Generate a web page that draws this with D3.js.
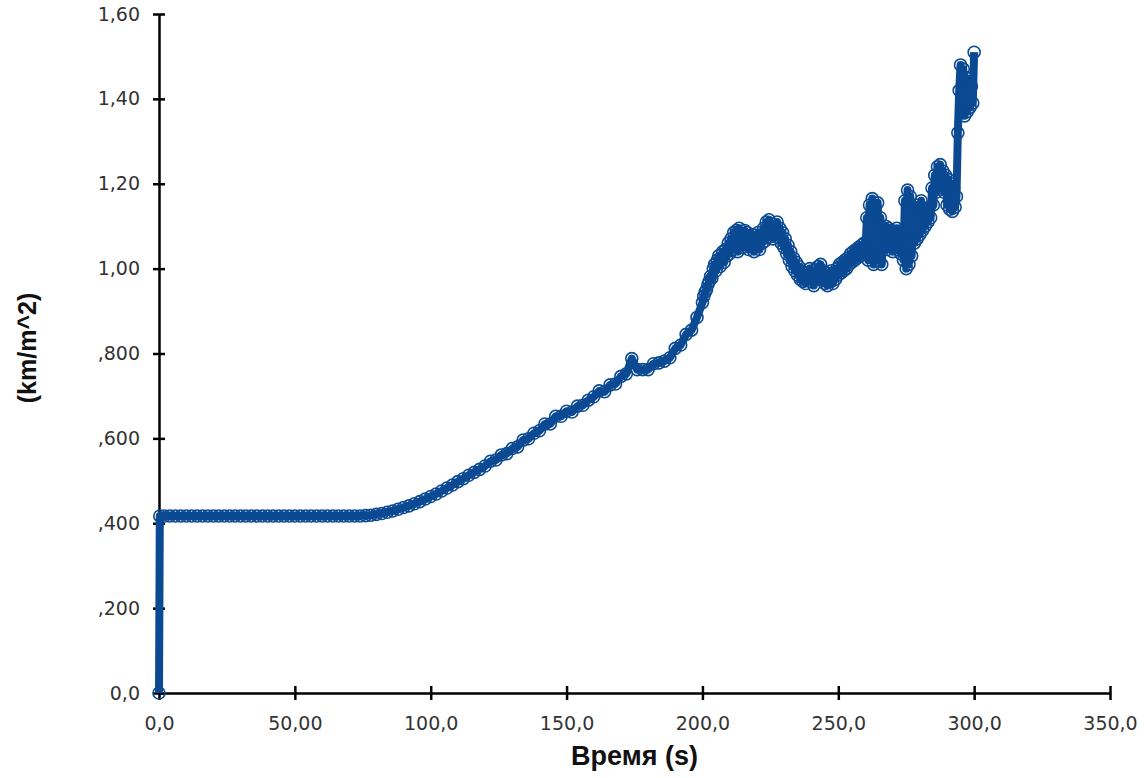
<!DOCTYPE html>
<html>
<head>
<meta charset="utf-8">
<script src="https://cdn.jsdelivr.net/npm/d3@7"></script>
<style>
  body { margin: 0; background: #fff; }
  svg { display: block; }
  .tick text { font-family: "DejaVu Sans", Verdana, sans-serif; font-size: 19px; fill: #333; }
  .title { font-family: "Liberation Sans", Arial, sans-serif; font-weight: bold; fill: #111; }
</style>
</head>
<body>
<svg id="chart" width="1144" height="778"></svg>
<script>
// tick values and their labels, as printed on the chart
var xTicks = [0, 50, 100, 150, 200, 250, 300, 350];
var xTickLabels = ['0,0', '50,00', '100,0', '150,0', '200,0', '250,0', '300,0', '350,0'];
var yTicks = [0, 0.2, 0.4, 0.6, 0.8, 1.0, 1.2, 1.4, 1.6];
var yTickLabels = ['0,0', ',200', ',400', ',600', ',800', '1,00', '1,20', '1,40', '1,60'];

// start of the record: the jump at t = 0
var startTimes = [0, 0.3];
var startValues = [0.0, 0.417];

// 2 s samples, t = 2 .. 198
var rampTimes = d3.range(2, 200, 2);
var rampValues = [
  0.417, 0.417, 0.417, 0.417, 0.417, 0.417, 0.417, 0.417, 0.417, 0.417,
  0.417, 0.417, 0.417, 0.417, 0.417, 0.417, 0.417, 0.417, 0.417, 0.417,
  0.417, 0.417, 0.417, 0.417, 0.417, 0.417, 0.417, 0.417, 0.417, 0.417,
  0.417, 0.417, 0.417, 0.417, 0.417, 0.417, 0.417,
  0.418, 0.419, 0.421, 0.423, 0.426, 0.429, 0.433, 0.437, 0.441, 0.446,
  0.451, 0.457, 0.463, 0.469, 0.476, 0.483, 0.490, 0.498, 0.505, 0.513,
  0.520, 0.527, 0.535, 0.546, 0.549, 0.561, 0.564, 0.576, 0.580, 0.596,
  0.599, 0.612, 0.618, 0.634, 0.634, 0.652, 0.652, 0.664, 0.662, 0.676,
  0.678, 0.690, 0.698, 0.712, 0.710, 0.726, 0.728, 0.746, 0.752, 0.788,
  0.762, 0.762, 0.762, 0.776, 0.778, 0.782, 0.790, 0.812, 0.820, 0.845,
  0.855, 0.885
];

// 0.5 s samples, t = 200 .. 300
var noisyTimes = d3.range(200, 300.5, 0.5);
var noisyValues = [
  0.920, 0.935, 0.945, 0.950, 0.962, 0.970, 0.982, 0.978, 1.000, 1.010,
  0.995, 1.020, 1.030, 1.005, 1.025, 1.040, 1.015, 1.045, 1.030, 1.060,
  1.035, 1.070, 1.045, 1.085, 1.055, 1.090, 1.040, 1.095, 1.060, 1.080,
  1.050, 1.090, 1.060, 1.085, 1.045, 1.075, 1.055, 1.080, 1.040, 1.070,
  1.055, 1.085, 1.045, 1.075, 1.060, 1.095, 1.065, 1.110, 1.075, 1.115,
  1.080, 1.105, 1.070, 1.100, 1.085, 1.110, 1.075, 1.095, 1.060, 1.085,
  1.050, 1.070, 1.035, 1.055, 1.020, 1.040, 1.005, 1.025, 0.995, 1.015,
  0.985, 1.005, 0.975, 0.995, 0.970, 0.990, 0.965, 0.985, 0.975, 1.000,
  0.970, 0.995, 0.960, 0.990, 0.975, 1.005, 0.985, 1.010, 0.975, 0.995,
  0.965, 0.990, 0.960, 0.985, 0.970, 0.995, 0.965, 0.990, 0.975, 1.000,
  0.985, 1.010, 0.990, 1.015, 0.995, 1.020, 1.000, 1.025, 1.010, 1.035,
  1.015, 1.040, 1.020, 1.045, 1.025, 1.050, 1.030, 1.055, 1.035, 1.060,
  1.040, 1.120, 1.020, 1.150, 1.050, 1.165, 1.010, 1.140, 1.030, 1.155,
  1.020, 1.120, 1.010, 1.090, 1.050, 1.100, 1.045, 1.095, 1.055, 1.090,
  1.040, 1.085, 1.050, 1.095, 1.045, 1.080, 1.035, 1.090, 1.020, 1.160,
  1.000, 1.185, 1.010, 1.170, 1.030, 1.140, 1.060, 1.150, 1.070, 1.140,
  1.080, 1.160, 1.090, 1.140, 1.100, 1.130, 1.110, 1.145, 1.120, 1.190,
  1.150, 1.220, 1.180, 1.240, 1.200, 1.245, 1.190, 1.230, 1.180, 1.220,
  1.150, 1.210, 1.140, 1.200, 1.135, 1.190, 1.145, 1.170, 1.320, 1.420,
  1.480, 1.380, 1.470, 1.360, 1.450, 1.370, 1.440, 1.380, 1.430, 1.390,
  1.510
];

var times = startTimes.concat(rampTimes, noisyTimes);
var values = startValues.concat(rampValues, noisyValues);
var data = times.map(function(t, i) { return { t: t, v: values[i] }; });

var svg = d3.select('#chart');
var x = d3.scaleLinear().domain([0, 350]).range([159, 1110]);
var y = d3.scaleLinear().domain([0, 1.6]).range([693, 14]);

var xAxis = svg.append('g')
  .attr('transform', 'translate(0,' + y(0) + ')')
  .call(d3.axisBottom(x).tickValues(xTicks)
    .tickFormat(function(d, i) { return xTickLabels[i]; })
    .tickSizeOuter(0));
xAxis.selectAll('.tick line').attr('y1', -7).attr('y2', 7)
  .attr('stroke', '#000').attr('stroke-width', 2.5);
xAxis.selectAll('.tick text').attr('y', 24);

var yAxis = svg.append('g')
  .attr('transform', 'translate(' + x(0) + ',0)')
  .call(d3.axisLeft(y).tickValues(yTicks)
    .tickFormat(function(d, i) { return yTickLabels[i]; })
    .tickSizeOuter(0));
yAxis.selectAll('.tick line').attr('x1', 6).attr('x2', -6)
  .attr('stroke', '#000').attr('stroke-width', 2.5);
yAxis.selectAll('.tick text').attr('x', -19);

svg.selectAll('.domain').attr('stroke', '#000').attr('stroke-width', 2.5);

// series
var line = d3.line()
  .x(function(d) { return x(d.t); })
  .y(function(d) { return y(d.v); });

svg.append('path')
  .datum(data)
  .attr('d', line)
  .attr('fill', 'none')
  .attr('stroke', '#0b4a93')
  .attr('stroke-width', 8)
  .attr('stroke-linejoin', 'round');

svg.append('g').selectAll('circle')
  .data(data)
  .enter().append('circle')
  .attr('cx', function(d) { return x(d.t); })
  .attr('cy', function(d) { return y(d.v); })
  .attr('r', 6)
  .attr('fill', 'none')
  .attr('stroke', '#0b4a93')
  .attr('stroke-width', 1.6);

// axis titles
svg.append('text')
  .attr('class', 'title')
  .attr('x', (x(0) + x(350)) / 2)
  .attr('y', 765)
  .attr('text-anchor', 'middle')
  .style('font-size', '27px')
  .text('Время (s)');

svg.append('text')
  .attr('class', 'title')
  .attr('transform', 'translate(36,348) rotate(-90)')
  .attr('text-anchor', 'middle')
  .style('font-size', '25px')
  .text('(km/m^2)');
</script>
</body>
</html>
